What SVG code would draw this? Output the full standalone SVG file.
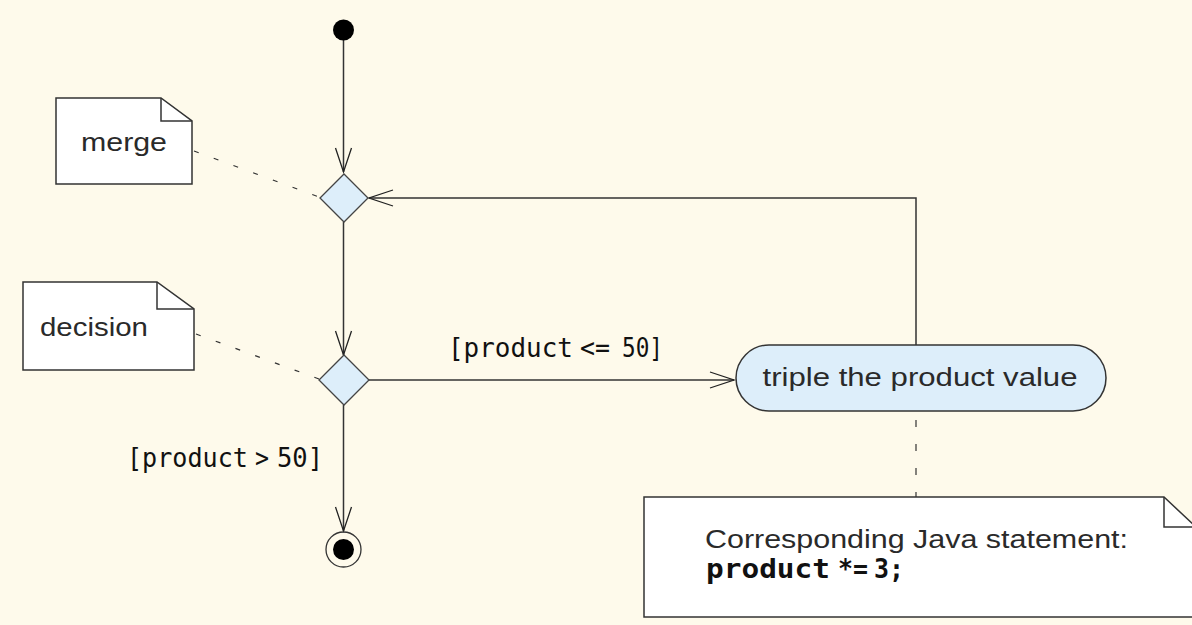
<svg xmlns="http://www.w3.org/2000/svg" width="1192" height="625" viewBox="0 0 1192 625">
<defs>
<style>
.bg{fill:#fefaeb}
.ln{fill:none;stroke:#333;stroke-width:1.5}
.dash{fill:none;stroke:#333;stroke-width:1.2;stroke-dasharray:5 16}
.note{fill:#fff;stroke:#333;stroke-width:1.5}
.dia{fill:#ddeefa;stroke:#444;stroke-width:1.3}
.act{fill:#ddeefa;stroke:#333;stroke-width:1.5}
.lbl{font-family:"Liberation Sans","DejaVu Sans",sans-serif;fill:#2a2a2a}
.mono{font-family:"DejaVu Sans Mono","Liberation Mono",monospace;fill:#111}
</style>
<marker id="arr" markerUnits="userSpaceOnUse" markerWidth="30" markerHeight="20" refX="24" refY="8" orient="auto" overflow="visible">
<path d="M0,0 L24,8 L0,16" fill="none" stroke="#222" stroke-width="1.3"/>
</marker>
</defs>
<rect class="bg" x="0" y="0" width="1192" height="625"/>

<g id="connectors">
<line class="ln" x1="343.5" y1="40" x2="343.5" y2="172" marker-end="url(#arr)"/>
<line class="ln" x1="343.5" y1="222" x2="343.5" y2="355" marker-end="url(#arr)"/>
<line class="ln" x1="368" y1="380" x2="734" y2="380" marker-end="url(#arr)"/>
<polyline class="ln" points="916,345 916,198 369,198" marker-end="url(#arr)"/>
<line class="ln" x1="343.5" y1="405" x2="343.5" y2="531" marker-end="url(#arr)"/>
<line class="dash" x1="194" y1="151" x2="319" y2="197"/>
<line class="dash" x1="196" y1="334" x2="319" y2="379"/>
<line class="dash" x1="916" y1="420" x2="916" y2="497" style="stroke-dasharray:7 17"/>
<text class="mono" y="357" font-size="26"><tspan x="448" textLength="125" lengthAdjust="spacingAndGlyphs">[product</tspan><tspan x="580" textLength="30" lengthAdjust="spacingAndGlyphs">&lt;=</tspan><tspan x="622" textLength="41" lengthAdjust="spacingAndGlyphs">50]</tspan></text>
<text class="mono" y="467" font-size="26"><tspan x="127" textLength="121" lengthAdjust="spacingAndGlyphs">[product</tspan><tspan x="255" textLength="14" lengthAdjust="spacingAndGlyphs">&gt;</tspan><tspan x="277" textLength="46" lengthAdjust="spacingAndGlyphs">50]</tspan></text>
</g>

<g id="initial">
<circle cx="343.5" cy="30" r="10.5" fill="#000"/>
</g>

<g id="merge">
<polygon class="dia" points="344,174 368,198 344,222 320,198"/>
</g>

<g id="decision">
<polygon class="dia" points="344,355 369,380 344,405 319,380"/>
</g>

<g id="merge-note">
<path class="note" d="M56,98 H161 L192,121 V184 H56 Z"/>
<path class="ln" d="M161,98 V121 H192"/>
<text class="lbl" x="124" y="151" font-size="26" text-anchor="middle" textLength="86" lengthAdjust="spacingAndGlyphs">merge</text>
</g>

<g id="decision-note">
<path class="note" d="M23,282 H157 L194,309 V370 H23 Z"/>
<path class="ln" d="M157,282 V309 H194"/>
<text class="lbl" x="94" y="336" font-size="26" text-anchor="middle" textLength="108" lengthAdjust="spacingAndGlyphs">decision</text>
</g>

<g id="activity">
<rect class="act" x="736" y="345" width="370" height="66" rx="33" ry="33"/>
<text class="lbl" x="920" y="386" font-size="26" text-anchor="middle" textLength="315" lengthAdjust="spacingAndGlyphs">triple the product value</text>
</g>

<g id="java-note">
<path class="note" d="M644,497 H1164 L1196,527 V617 H644 Z"/>
<path class="ln" d="M1164,497 V527 H1196"/>
<text class="lbl" x="705" y="548" font-size="25" textLength="423" lengthAdjust="spacingAndGlyphs">Corresponding Java statement:</text>
<text class="mono" y="578" font-size="27" font-weight="bold"><tspan x="706" textLength="124" lengthAdjust="spacingAndGlyphs">product</tspan><tspan x="838" textLength="30" lengthAdjust="spacingAndGlyphs">*=</tspan><tspan x="874" textLength="30" lengthAdjust="spacingAndGlyphs">3;</tspan></text>
</g>

<g id="final">
<circle cx="343.5" cy="549.5" r="17.5" fill="none" stroke="#333" stroke-width="1.3"/>
<circle cx="343.5" cy="549.5" r="10.5" fill="#000"/>
</g>
</svg>
